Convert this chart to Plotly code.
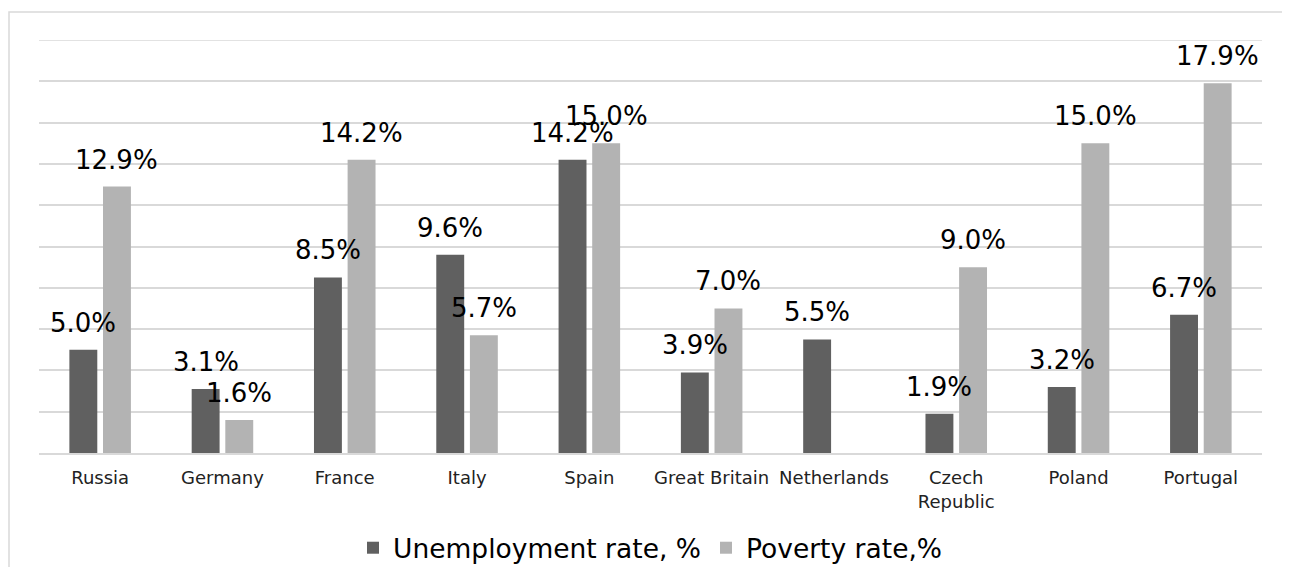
import plotly.graph_objects as go

countries = ["Russia", "Germany", "France", "Italy", "Spain", "Great Britain",
             "Netherlands", "Czech<br>Republic", "Poland", "Portugal"]
unemployment = [5.0, 3.1, 8.5, 9.6, 14.2, 3.9, 5.5, 1.9, 3.2, 6.7]
poverty = [12.9, 1.6, 14.2, 5.7, 15.0, 7.0, None, 9.0, 15.0, 17.9]

FONT = "DejaVu Sans, Verdana, sans-serif"
BARGAP = 0.45
PLOT_W = 1223  # plot-area width in px
slot_px = (1 - BARGAP) / 2 * PLOT_W / len(countries)

fig = go.Figure()
series = [(unemployment, "Unemployment rate, %", "#606060", -slot_px / 2),
          (poverty, "Poverty rate,%", "#b3b3b3", slot_px / 2)]
for vals, name, color, _ in series:
    fig.add_trace(go.Bar(
        x=countries, y=vals, name=name,
        marker=dict(color=color, line=dict(width=0)),
        cliponaxis=False,
    ))

annotations = []
for vals, _, _, shift in series:
    for c, v in zip(countries, vals):
        if v is None:
            continue
        annotations.append(dict(
            x=c, y=v, xref="x", yref="y", text=f"{v:.1f}%", showarrow=False,
            xanchor="center", yanchor="bottom", xshift=shift, yshift=10,
            font=dict(family=FONT, size=26, color="#000000"),
        ))

fig.update_layout(
    width=1290, height=567,
    margin=dict(l=31, r=36, t=32, b=122, autoexpand=False),
    paper_bgcolor="white", plot_bgcolor="white",
    barmode="group", bargap=BARGAP, bargroupgap=0.17,
    font=dict(family=FONT, color="#000000"),
    showlegend=True,
    legend=dict(orientation="h", x=0.5, xanchor="center", y=-0.23, yanchor="middle",
                font=dict(family=FONT, size=26.5, color="#000000"),
                bgcolor="rgba(0,0,0,0)",
                itemwidth=30, traceorder="normal"),
    annotations=annotations,
    shapes=[dict(type="rect", xref="paper", yref="paper",
                 x0=-30/1223, x1=1.2, y0=-1.0, y1=(445-4)/413,
                 line=dict(color="#d9d9d9", width=1.5), fillcolor="rgba(0,0,0,0)",
                 layer="below"),
            dict(type="line", xref="paper", yref="y", x0=0, x1=1, y0=20, y1=20,
                 line=dict(color="#d9d9d9", width=1.5), layer="below")],
)
fig.update_xaxes(
    type="category", showgrid=False, showline=True, linecolor="#d9d9d9", linewidth=1.5,
    ticks="", ticklabelstandoff=8,
    tickfont=dict(family=FONT, size=18, color="#222222"),
)
fig.update_yaxes(
    range=[0, 20], dtick=2, showgrid=True, gridcolor="#d9d9d9", gridwidth=1.5,
    showticklabels=False, zeroline=False, showline=False, ticks="",
)

fig.write_html("out.html")
